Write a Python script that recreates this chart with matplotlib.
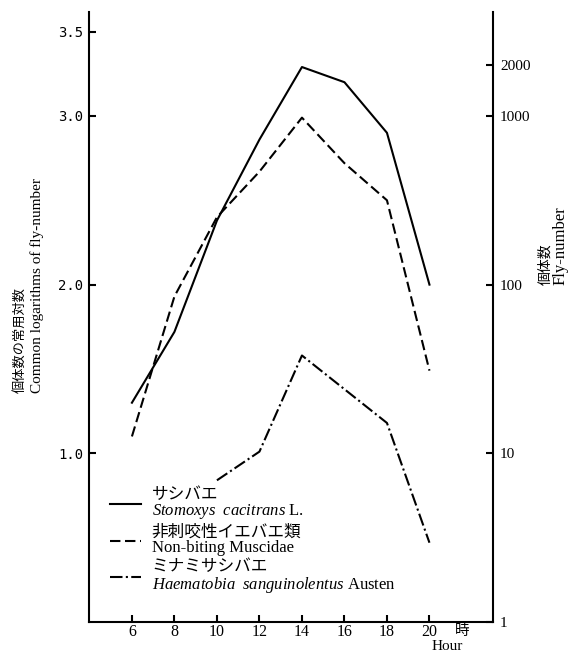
import numpy as np
import matplotlib.pyplot as plt
from matplotlib.ticker import NullLocator

plt.rcParams['mathtext.fontset'] = 'custom'
plt.rcParams['mathtext.rm'] = 'Liberation Serif'
plt.rcParams['mathtext.it'] = 'Liberation Serif:italic'

# hours of the day
hours = [6, 8, 10, 12, 14, 16, 18, 20]
haem_hours = [10, 12, 14, 16, 18, 20]

# common log of fly numbers
stomoxys = [1.30, 1.72, 2.38, 2.86, 3.29, 3.20, 2.90, 2.00]
muscidae = [1.10, 1.93, 2.40, 2.67, 2.99, 2.72, 2.50, 1.49]
haematobia = [0.84, 1.01, 1.58, 1.38, 1.18, 0.47]

left_ticks = [1.0, 2.0, 3.0, 3.5]
right_ticks = [1, 10, 100, 1000, 2000]

labels = ['サシバエ\n$\\mathit{Stomoxys\\ \\ cacitrans}$ L.',
          '非刺咬性イエバエ類\nNon-biting Muscidae',
          'ミナミサシバエ\n$\\mathit{Haematobia\\ \\ sanguinolentus}$ Austen']

W, H = 576, 654
def fx(x):
    return x / W
def fy(y):
    return 1 - y / H

cjk = ['Noto Sans CJK JP', 'DejaVu Sans']
serif = 'Liberation Serif'

fig = plt.figure(figsize=(W / 100, H / 100), dpi=100)
ax = fig.add_axes([fx(89), fy(622), (493 - 89) / W, (622 - 11.7) / H])
ax.set_xlim(3.98, 22.99)
ax.set_ylim(0, 3.618)

l1, = ax.plot(hours, stomoxys, color='black', lw=1.5)
l2, = ax.plot(hours, muscidae, color='black', lw=1.5, linestyle=(0, (5, 2.2)))
l3, = ax.plot(haem_hours, haematobia, color='black', lw=1.5, linestyle=(0, (6, 1.6, 1, 1.6)))

ax.set_xticks(hours)
ax.set_xticklabels([str(h) for h in hours], family=serif, fontsize=11.5)
ax.set_yticks(left_ticks)
ax.set_yticklabels(['%.1f' % v for v in left_ticks], family='DejaVu Sans Mono', fontsize=10)
ax.tick_params(direction='in', length=5, width=1.5, pad=4)
ax.tick_params(axis='x', pad=1.5)
ax.spines['top'].set_visible(False)
ax.spines['right'].set_visible(False)
for s in ['left', 'bottom']:
    ax.spines[s].set_linewidth(1.5)

tw = ax.twinx()
tw.set_yscale('log')
tw.set_ylim(1, 10 ** 3.618)
tw.set_yticks(right_ticks)
tw.set_yticklabels([str(v) for v in right_ticks], family=serif, fontsize=11)
tw.yaxis.set_minor_locator(NullLocator())
tw.tick_params(direction='in', length=5, width=1.5, pad=5)
for s in ['top', 'left', 'bottom']:
    tw.spines[s].set_visible(False)
tw.spines['right'].set_linewidth(1.5)

# axis titles
fig.text(fx(20), fy(393), '個体数の常用対数', rotation=90, ha='center', va='bottom',
         family=cjk, fontsize=9.5)
fig.text(fx(37), fy(393), 'Common logarithms of fly-number', rotation=90, ha='center',
         va='bottom', family=serif, fontsize=11)
fig.text(fx(545), fy(285), '個体数', rotation=90, ha='center', va='bottom',
         family=cjk, fontsize=10)
fig.text(fx(561), fy(285), 'Fly-number', rotation=90, ha='center', va='bottom',
         family=serif, fontsize=12)
fig.text(fx(462), fy(631), '時', ha='center', va='center', family=cjk, fontsize=10.5)
fig.text(fx(447), fy(653), 'Hour', ha='center', va='bottom', family=serif, fontsize=11)

leg = ax.legend([l1, l2, l3], labels, loc='upper left',
                bbox_to_anchor=(fx(110), fy(487)), bbox_transform=fig.transFigure,
                frameon=False, borderpad=0, borderaxespad=0,
                handlelength=1.85, handletextpad=0.65, labelspacing=0.2,
                prop={'family': [serif, 'Noto Sans CJK JP'], 'size': 12})
for t in leg.get_texts():
    t.set_linespacing(0.95)

fig.savefig('out.png', dpi=100)
